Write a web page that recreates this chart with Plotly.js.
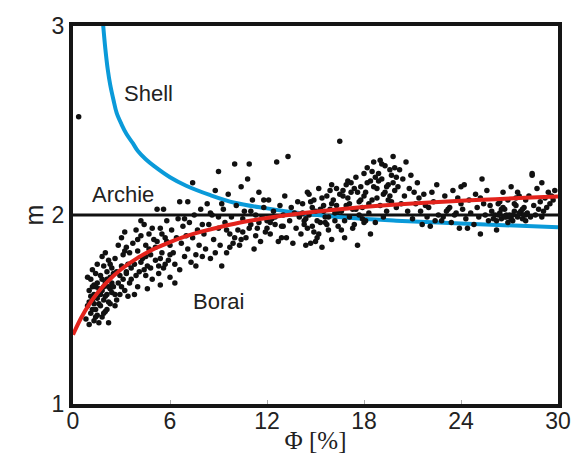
<!DOCTYPE html>
<html>
<head>
<meta charset="utf-8">
<script src="https://cdn.plot.ly/plotly-3.0.1.min.js"></script>
<style>html,body{margin:0;padding:0;background:#fff}#chart{width:580px;height:457px}</style>
</head>
<body>
<div id="chart"></div>
<script>
// Shell curve
const shellPhi = [1.85, 2.0, 2.15, 2.3, 2.5, 2.7, 3.0, 3.3, 3.7, 4.0, 4.5, 5.0, 6.0, 7.0, 8.5, 10, 12, 14, 17, 20, 24, 30];
const shellM   = [3.02, 2.88, 2.77, 2.69, 2.61, 2.54, 2.48, 2.43, 2.38, 2.34, 2.295, 2.26, 2.2, 2.155, 2.105, 2.065, 2.035, 2.01, 1.985, 1.97, 1.955, 1.935];
// Borai curve
const boraiPhi = [0, 0.5, 1, 1.5, 2, 3, 4, 5, 6, 7, 8, 10, 12, 14, 17, 20, 24, 30];
const boraiM   = [1.367, 1.455, 1.527, 1.586, 1.636, 1.714, 1.773, 1.82, 1.857, 1.888, 1.913, 1.954, 1.984, 2.008, 2.035, 2.055, 2.076, 2.098];
// Archie line
const archiePhi = [0, 30];
const archieM = [2, 2];

const phiBands = [
 [0.8,0.9,1.0,1.0,1.1,1.1,1.2,1.2,1.3,1.3,1.3,1.4,1.4,1.5,1.5,1.5,1.6,1.6,0.9,1.2],
 [1.7,1.7,1.8,1.8,1.9,1.9,2.0,2.0,2.0,2.1,2.1,2.2,2.2,2.2,2.3,2.3,2.4,2.4,1.8,2.1],
 [1.1,1.3,1.5,1.7,1.9,2.1,2.3,2.5,1.2,1.4,1.6,1.8,2.0,2.2,2.4,1.0,1.4,1.9,2.3,2.6],
 [2.5,2.6,2.7,2.7,2.8,2.8,2.9,3.0,3.0,3.1,3.1,3.2,3.2,3.3,3.3,3.4,3.4,3.5,2.6,2.9],
 [3.6,3.7,3.8,3.9,4.0,4.0,4.1,4.2,4.3,4.4,4.5,4.5,4.6,4.7,4.8,4.9,5.0,3.8,4.2,4.6],
 [5.1,5.2,5.2,5.3,5.4,5.5,5.6,5.6,5.7,5.8,5.9,6.0,6.0,6.1,6.2,6.3,6.4,6.5,5.4,6.3],
 [6.6,6.6,6.7,6.8,6.9,7.0,7.1,7.1,7.2,7.3,7.4,7.4,7.5,7.6,7.7,7.8,7.9,8.0,6.9,7.6],
 [8.1,8.2,8.3,8.4,8.5,8.6,8.7,8.8,9.0,9.0,9.1,9.2,9.3,9.4,9.5,9.6,9.7,9.8,9.9,10.0],
 [10.1,10.2,10.3,10.4,10.5,10.6,10.7,10.9,11.0,11.1,11.2,11.3,11.4,11.5,11.6,11.7,11.8,11.9,12.0,10.8],
 [12.1,12.2,12.3,12.4,12.6,12.7,12.8,12.9,13.0,13.1,13.2,13.3,13.4,13.5,13.6,13.7,13.8,13.9,14.0,12.5],
 [14.1,14.2,14.3,14.4,14.5,14.6,14.7,14.8,14.9,15.0,15.1,15.2,15.3,15.4,15.5,15.6,15.7,15.8,15.9,16.0],
 [14.2,14.5,14.8,15.1,15.4,15.7,16.0,14.4,14.9,15.3,15.8,14.6,15.0,15.5,15.9,14.3,14.7,15.2,15.6,16.0],
 [16.1,16.2,16.3,16.4,16.5,16.6,16.7,16.8,16.9,17.0,17.1,17.2,17.3,17.4,17.5,17.6,17.7,17.8,17.9,18.0],
 [16.2,16.5,16.8,17.1,17.4,17.7,18.0,16.3,16.9,17.3,17.9,16.6,17.0,17.6,16.4,17.2,17.8,16.7,17.5,18.0],
 [18.1,18.2,18.3,18.4,18.5,18.6,18.7,18.8,18.9,19.0,19.1,19.2,19.3,19.4,19.5,19.6,19.7,19.8,19.9,20.0],
 [18.2,18.5,18.8,19.1,19.4,19.7,20.0,18.3,18.9,19.3,19.9,18.6,19.0,19.6,18.4,19.2,19.8,18.7,19.5,18.1],
 [20.1,20.2,20.3,20.4,20.5,20.6,20.7,20.8,20.9,21.0,21.1,21.2,21.3,21.4,21.5,21.6,21.7,21.8,21.9,22.0],
 [22.1,22.3,22.5,22.6,22.8,23.0,23.2,23.4,23.5,23.7,23.9,24.0,22.2,22.9,23.3,23.8,22.4,23.1,23.6,24.0],
 [24.1,24.2,24.3,24.5,24.6,24.8,24.9,25.0,25.1,25.2,25.3,25.4,25.5,25.6,25.7,25.8,25.9,26.0,24.4,25.2],
 [26.1,26.2,26.3,26.4,26.5,26.6,26.7,26.8,26.9,27.0,27.1,27.2,27.3,27.4,27.5,27.6,27.7,27.8,27.9,28.0],
 [26.2,26.5,26.8,27.1,27.4,27.7,28.0,26.3,26.9,27.3,27.9,26.6,27.0,27.6,26.4,27.2,27.8,26.7,27.5,28.0],
 [28.1,28.2,28.3,28.4,28.5,28.6,28.7,28.8,28.9,29.0,29.1,29.2,29.3,29.4,29.5,29.6,29.7,29.8,28.4,29.0],
 [3.0,3.3,3.6,3.9,4.2,4.5,4.8,5.1,5.4,5.7,6.0,3.5,4.0,4.4,4.9,5.3,5.8,3.2,4.7,5.5],
 [8.0,8.5,9.0,9.5,10.0,10.5,11.0,11.5,12.0,12.5,13.0,8.8,9.7,10.4,11.3,12.2,12.9,9.2,10.9,11.8],
 [0.35]
];
const mBands = [
 [1.45,1.52,1.60,1.42,1.48,1.66,1.55,1.71,1.44,1.58,1.63,1.50,1.69,1.47,1.56,1.74,1.61,1.43,1.67,1.50],
 [1.52,1.68,1.46,1.60,1.73,1.55,1.64,1.49,1.80,1.58,1.70,1.43,1.62,1.76,1.53,1.67,1.59,1.72,1.78,1.50],
 [1.57,1.53,1.64,1.58,1.62,1.66,1.61,1.69,1.62,1.46,1.53,1.66,1.57,1.54,1.64,1.54,1.62,1.48,1.74,1.58],
 [1.62,1.77,1.55,1.70,1.84,1.64,1.58,1.73,1.88,1.66,1.79,1.60,1.91,1.69,1.83,1.74,1.57,1.80,1.52,1.68],
 [1.66,1.85,1.74,1.92,1.62,1.81,1.70,1.89,1.77,1.95,1.68,1.84,1.73,1.90,1.79,1.66,1.87,1.58,1.97,1.61],
 [1.76,2.03,1.86,1.69,1.93,1.80,2.03,1.72,1.88,1.97,1.76,1.84,1.67,1.92,1.80,1.64,1.88,1.98,1.63,1.74],
 [1.71,2.07,1.85,1.94,1.78,1.89,2.07,1.82,1.96,1.75,2.17,1.88,2.00,1.79,1.92,1.84,2.03,1.78,1.98,1.73],
 [1.90,1.82,2.06,1.95,1.77,2.00,1.87,2.13,2.23,1.93,1.84,1.73,2.03,1.96,1.80,2.11,1.90,1.99,1.85,2.27],
 [2.05,1.92,1.84,2.15,1.98,2.02,1.88,2.27,1.95,2.08,1.82,2.00,1.93,2.12,1.86,1.99,2.04,1.91,1.97,2.19],
 [2.08,1.90,1.98,2.02,2.28,1.86,2.05,1.94,2.00,2.10,1.88,2.31,1.97,2.04,1.85,2.01,1.93,2.07,1.99,1.95],
 [1.90,2.06,1.97,1.84,2.12,2.00,1.85,1.94,2.08,2.02,1.88,2.14,1.96,1.83,2.05,1.99,2.10,1.92,2.03,1.87],
 [2.01,1.93,2.04,1.97,2.09,1.95,2.06,1.98,1.91,2.03,1.99,2.11,1.86,2.02,2.13,1.95,2.07,1.90,1.96,2.16],
 [2.08,1.97,2.14,2.02,2.39,1.92,2.10,1.88,2.05,2.18,1.99,2.12,2.03,1.95,2.20,1.84,2.07,2.15,1.98,2.22],
 [2.01,2.11,1.97,2.06,2.14,2.00,2.10,2.05,2.16,1.93,2.04,2.02,2.09,2.12,1.94,2.17,2.08,2.13,2.03,1.96],
 [2.12,2.25,2.01,2.18,2.08,2.28,1.96,2.14,2.22,2.05,2.19,2.11,2.26,2.02,2.16,2.24,2.07,2.31,2.13,2.20],
 [2.17,2.23,2.09,2.27,2.15,2.21,2.04,2.06,2.18,2.12,2.25,2.15,2.29,2.10,1.90,1.99,2.17,2.20,2.08,1.97],
 [2.15,2.24,2.06,2.19,2.10,2.28,2.02,2.14,2.21,1.98,2.12,2.06,2.17,2.09,2.02,1.95,2.11,2.05,1.99,2.04],
 [1.94,2.07,2.16,2.00,1.97,2.10,2.03,1.96,2.13,2.01,1.93,2.06,2.12,1.99,2.04,2.09,1.97,2.02,2.00,2.15],
 [2.03,2.16,1.98,2.08,2.01,1.95,2.11,2.04,1.99,1.90,2.19,2.06,2.00,2.13,1.97,2.05,2.02,1.98,1.93,2.09],
 [2.00,1.92,2.06,2.01,1.98,2.12,2.03,1.99,2.08,2.00,2.15,1.97,2.02,2.05,1.99,2.10,2.01,1.98,2.04,2.00],
 [1.97,2.03,2.00,1.98,2.09,2.02,1.97,2.00,1.96,2.06,2.00,2.04,1.99,2.01,2.07,2.00,2.03,1.99,2.12,2.08],
 [2.01,2.10,1.99,2.22,2.05,2.00,2.14,2.03,2.07,2.17,2.02,2.09,2.04,2.12,2.06,2.10,2.08,2.13,2.21,1.99],
 [1.62,1.70,1.72,1.68,1.75,1.78,1.72,1.83,1.77,1.74,1.79,1.64,1.87,1.71,1.93,1.73,1.86,1.81,1.82,1.90],
 [1.95,2.01,1.99,1.92,1.88,1.91,2.02,1.96,1.93,1.99,1.94,1.80,1.83,1.87,1.89,1.96,1.88,2.06,1.93,2.08],
 [2.52]
];
const pointsPhi = [].concat(...phiBands);
const pointsM = [].concat(...mBands);

const xTicks = [0, 6, 12, 18, 24, 30];
const yTicks = [1, 2, 3];

const sans = "Liberation Sans, Arial, sans-serif";
const traces = [
  {x: archiePhi, y: archieM, mode: 'lines', line: {color: '#111', width: 3}, hoverinfo: 'skip'},
  {x: shellPhi, y: shellM, mode: 'lines', line: {color: '#0a9ad9', width: 4, shape: 'spline', smoothing: 1}, hoverinfo: 'skip'},
  {x: pointsPhi, y: pointsM, mode: 'markers', marker: {color: '#111', size: 5.5}},
  {x: boraiPhi, y: boraiM, mode: 'lines', line: {color: '#e3231c', width: 4, shape: 'spline'}, hoverinfo: 'skip'}
];

const layout = {
  width: 580, height: 457,
  margin: {l: 73, r: 22, t: 26, b: 53},
  paper_bgcolor: '#fff', plot_bgcolor: '#fff',
  showlegend: false,
  xaxis: {
    range: [0, 30], tickvals: xTicks, ticktext: xTicks.map(String),
    showgrid: false, zeroline: false,
    showline: true, mirror: true, linecolor: '#151515', linewidth: 4,
    ticks: 'inside', ticklen: 4, tickwidth: 1, tickcolor: '#aaa',
    ticklabelstandoff: -7,
    tickfont: {family: sans, size: 23, color: '#222'},
    title: {text: 'Φ [%]', font: {family: 'Liberation Serif, Times New Roman, serif', size: 25, color: '#222'}, standoff: 0}
  },
  yaxis: {
    range: [1, 3], tickvals: yTicks, ticktext: yTicks.map(String),
    showgrid: false, zeroline: false,
    showline: true, mirror: true, linecolor: '#151515', linewidth: 4,
    ticks: '', ticklabelstandoff: 0,
    tickfont: {family: sans, size: 23, color: '#222'},
    title: {text: 'm', font: {family: sans, size: 25, color: '#222'}, standoff: 2}
  },
  annotations: [
    {x: 4.7, y: 2.645, text: 'Shell', showarrow: false, font: {family: sans, size: 22, color: '#222'}},
    {x: 3.1, y: 2.106, text: 'Archie', showarrow: false, font: {family: sans, size: 22, color: '#222'}},
    {x: 8.97, y: 1.545, text: 'Borai', showarrow: false, font: {family: sans, size: 22, color: '#222'}}
  ]
};

Plotly.newPlot('chart', traces, layout, {displayModeBar: false, staticPlot: true});
</script>
</body>
</html>
